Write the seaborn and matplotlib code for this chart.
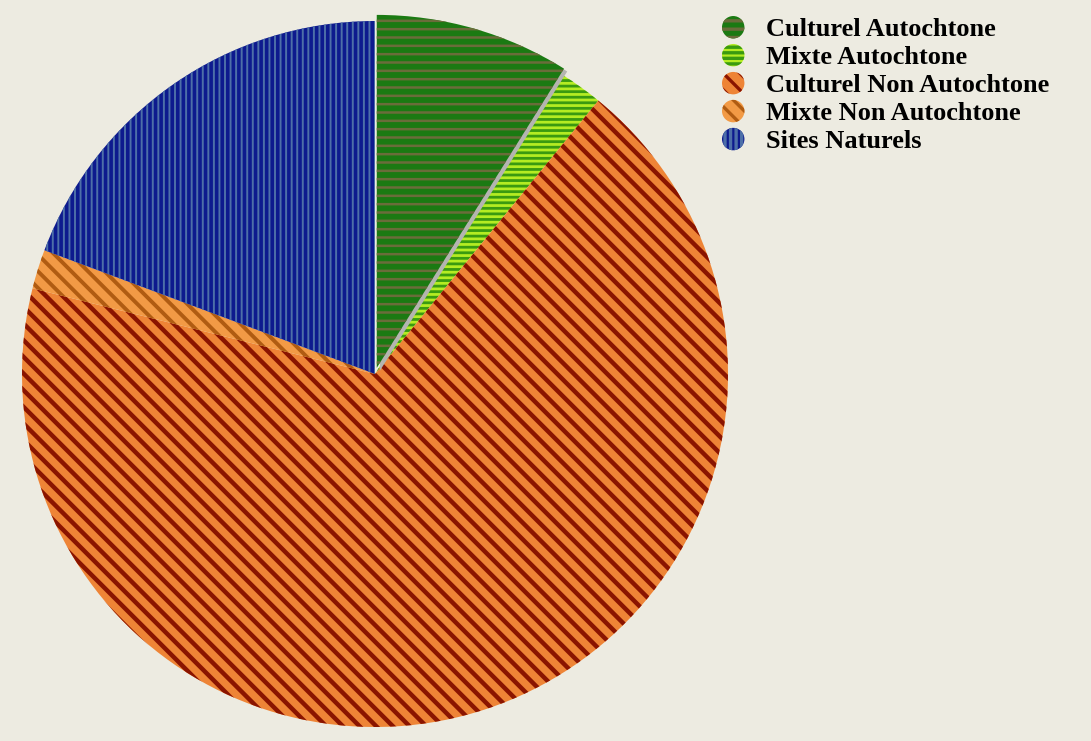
import matplotlib
matplotlib.use('Agg')
import matplotlib.pyplot as plt
import matplotlib.patches as mpatches
from matplotlib.legend_handler import HandlerPatch
import seaborn as sns

# --- Data ---
categories = ['Culturel Autochtone', 'Mixte Autochtone', 'Culturel Non Autochtone',
              'Mixte Non Autochtone', 'Sites Naturels']
shares = [8.9, 2.0, 68.0, 1.8, 19.3]

# --- Styling: base colour, stripe colour, hatch pattern, stripe width (pt) ---
face_colors = ['#1b7a12', '#b4ec22', '#ee8436', '#f29a45', '#0d1a8e']
stripe_colors = ['#6a6c3a', '#3a9a10', '#8a1400', '#b05c12', '#4d6fa8']
hatches = ['--', '---', '\\\\', '\\\\', '|||']
stripe_widths = [1.8, 2.0, 3.2, 2.8, 1.4]
explode = [0.018, 0, 0, 0, 0]
bg = '#edebe1'

sns.set_theme(style='white')
plt.rcParams['figure.facecolor'] = bg
plt.rcParams['hatch.linewidth'] = 2.4

W, H = 1091, 741
R = 353
CX, CY = 375, 374
fig = plt.figure(figsize=(W / 100, H / 100), dpi=100)
ax = fig.add_axes([(CX - R) / W, (H - CY - R) / H, 2 * R / W, 2 * R / H])
ax.set_facecolor(bg)

wedges, _ = ax.pie(shares, startangle=90, counterclock=False, explode=explode,
                   colors=face_colors, radius=1.0,
                   wedgeprops=dict(linewidth=0))
for w, sc, h, lw in zip(wedges, stripe_colors, hatches, stripe_widths):
    w.set_edgecolor(sc)
    w.set_linewidth(0)
    w.set_hatch(h)
    if hasattr(w, 'set_hatch_linewidth'):
        w.set_hatch_linewidth(lw)
    else:
        w._hatch_linewidth = lw

# soft grey shadow under the slightly pulled-out first slice
w0 = wedges[0]
cx, cy = w0.center
shadow = mpatches.Wedge((cx + 0.009, cy - 0.008), w0.r, w0.theta1, w0.theta2,
                        facecolor='#b4b4b0', edgecolor='none')
for w in wedges[1:]:
    w.set_zorder(0.5)
shadow.set_zorder(0.8)
w0.set_zorder(1.0)
ax.add_patch(shadow)

ax.set_xlim(-1.0, 1.0)
ax.set_ylim(-1.0, 1.0)
ax.set_aspect('equal')
ax.axis('off')


def make_circle(legend, orig_handle, xdescent, ydescent, width, height, fontsize):
    r = width / 2
    return mpatches.Circle((width / 2 - xdescent, height / 2 - ydescent), radius=r)


leg = fig.legend(wedges, categories, loc='upper left',
                 bbox_to_anchor=(722 / W, 1 - 18 / H),
                 frameon=False, handlelength=0.85, handletextpad=0.8,
                 labelspacing=0.17, borderpad=0, borderaxespad=0,
                 prop=dict(family='Liberation Serif', weight='bold', size=19),
                 handler_map={mpatches.Wedge: HandlerPatch(patch_func=make_circle)})
for t in leg.get_texts():
    t.set_color('black')

fig.savefig('out.png', dpi=100, facecolor=bg)
